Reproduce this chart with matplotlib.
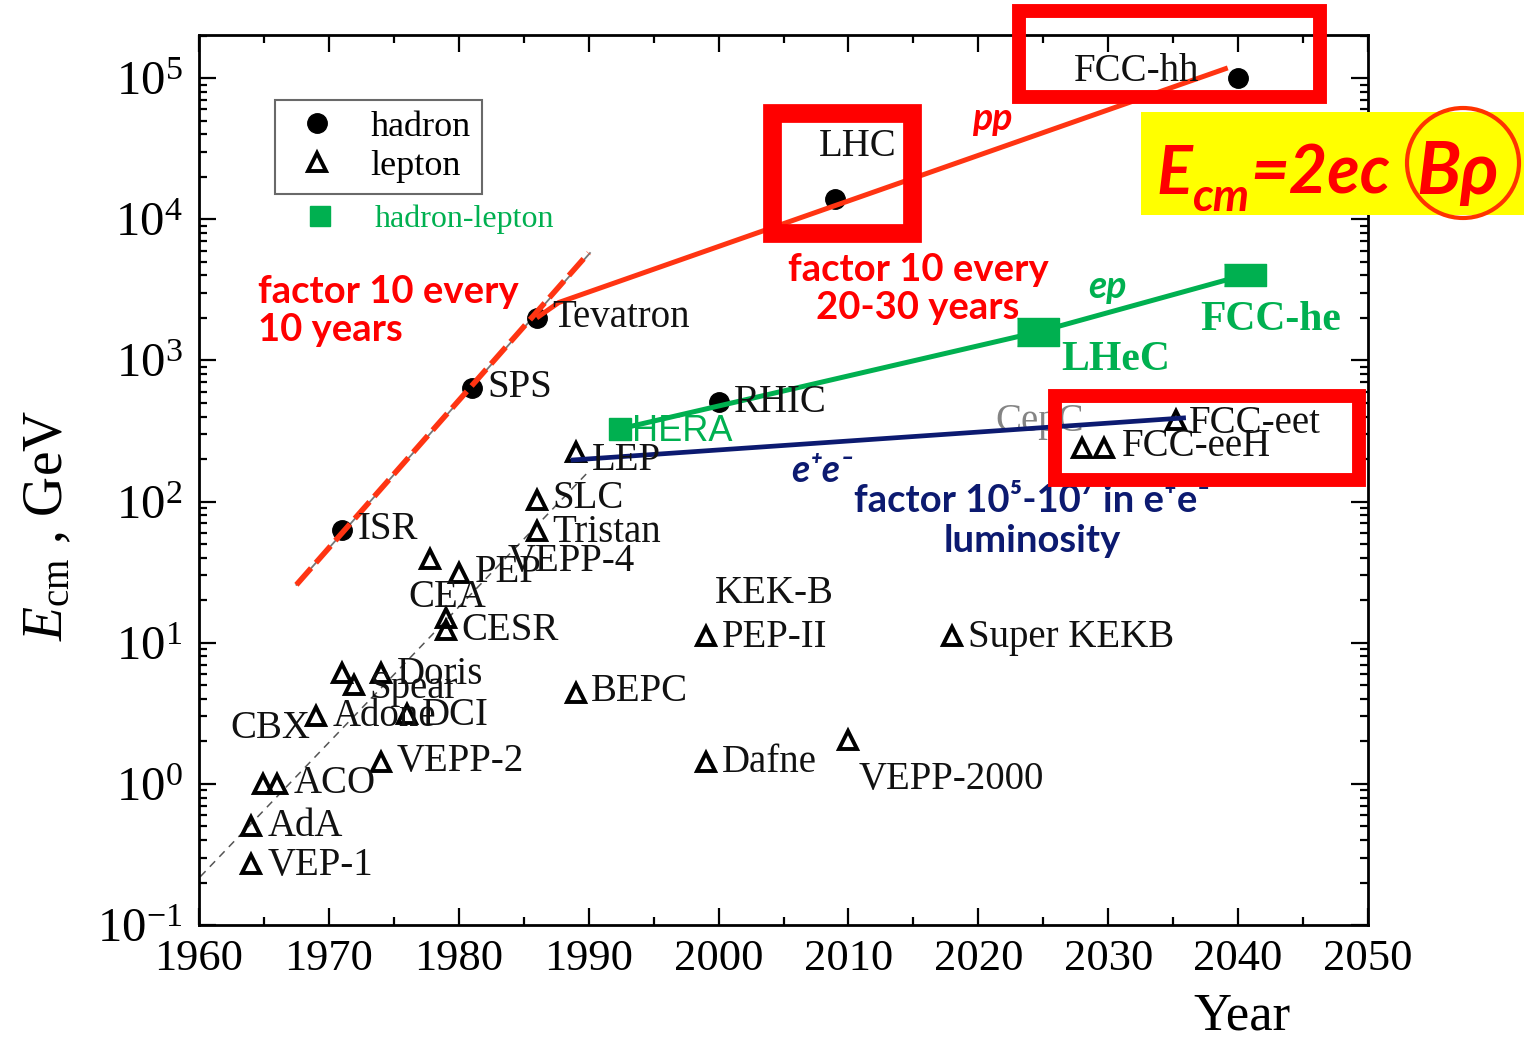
import numpy as np
import matplotlib.pyplot as plt
from matplotlib.lines import Line2D
from matplotlib.patches import Rectangle, Ellipse
from matplotlib.ticker import MultipleLocator, LogLocator, NullFormatter

plt.rcParams['font.family'] = ['Liberation Serif', 'DejaVu Serif']
plt.rcParams['mathtext.fontset'] = 'custom'
plt.rcParams['mathtext.rm'] = 'Liberation Serif'
plt.rcParams['mathtext.it'] = 'Liberation Serif:italic'

# colliders: year, centre-of-mass energy in GeV
hadron_names = ['ISR', 'SPS', 'Tevatron', 'RHIC', 'LHC', 'FCC-hh']
hadron_year = [1971, 1981, 1986, 2000, 2009, 2040]
hadron_ecm = [63, 640, 2000, 510, 14000, 100000]

lepton_names = ['VEP-1', 'AdA', '', 'ACO', 'Adone', '', 'Spear', 'Doris', 'DCI', 'VEPP-2',
                'CEA', 'CESR', '', 'PEP', 'SLC', 'Tristan', 'LEP', 'BEPC', 'PEP-II', 'Dafne',
                'VEPP-2000', 'Super KEKB', '', 'FCC-eeH', 'FCC-eet']
lepton_year = [1964, 1964, 1964.9, 1966, 1969, 1971, 1971.9, 1974, 1976, 1974,
               1979, 1979, 1977.8, 1980, 1986, 1986, 1989, 1989, 1999, 1999,
               2010, 2018, 2028, 2029.7, 2035.2]
lepton_ecm = [0.27, 0.5, 1.0, 1.0, 3.0, 6.1, 5.0, 6.1, 3.1, 1.43,
              15, 12.3, 39, 31, 103, 62, 224, 4.4, 11.1, 1.43,
              2.05, 11.1, 239, 239, 378]

hl_names = ['HERA', 'LHeC', 'FCC-he']
hl_year = [1992.4, 2024.6, 2040.5]
hl_ecm = [327, 1590, 4030]

# trend lines
hadron_trend_year = [1967.5, 1990.1]
hadron_trend_ecm = [25.7, 5760]
lepton_trend_year = [1960.1, 1990.1]
lepton_trend_ecm = [0.22, 167]
pp_year = [1986, 1987.7, 2039.2]
pp_ecm = [2000, 2570, 118000]
ee_year = [1988.8, 2035.8]
ee_ecm = [197, 391]

# highlight boxes (year0, year1, E0, E1)
box_lhc = [2004.1, 2014.9, 7980, 56500]
box_fcchh = [2023.1, 2046.3, 73300, 299000]
box_fccee = [2025.9, 2049.3, 143, 560]

RED = '#ff0000'
LINE_RED = '#ff3412'
GREEN = '#00b050'
NAVY = '#0c1a70'

fig = plt.figure(figsize=(15.24, 10.41), dpi=100)
ax = fig.add_axes([199 / 1524, 116 / 1041, 1169 / 1524, 890 / 1041])


def px(x, y):
    # pixel position of the reference image -> axes fraction
    return ((x - 199) / 1169, (925 - y) / 890)


ax.set_yscale('log')
ax.set_xlim(1960, 2050)
ax.set_ylim(0.1, 10 ** 5.305)

# trend lines
ax.plot(lepton_trend_year, lepton_trend_ecm, color='#555555', lw=1.1, ls=(0, (5, 4)), zorder=2)
ax.plot(hadron_trend_year, hadron_trend_ecm, color='#777777', lw=1.3, zorder=2)
ax.plot([hadron_trend_year[0], hadron_trend_year[1] - 0.1], hadron_trend_ecm, color=LINE_RED,
        lw=4, ls=(0, (4, 1.3)), zorder=4)
ax.plot(pp_year, pp_ecm, color=LINE_RED, lw=3.6, zorder=4, solid_capstyle='butt')
ax.plot(hl_year, hl_ecm, color=GREEN, lw=3.6, zorder=4)
ax.plot(ee_year, ee_ecm, color=NAVY, lw=3.4, zorder=4)

# markers
ax.plot(hadron_year, hadron_ecm, 'o', color='black', ms=14, zorder=3)
ax.plot(lepton_year, lepton_ecm, '^', mfc='none', mec='black', mew=2.8, ms=13.5, zorder=3)
ax.plot(hl_year[:1], hl_ecm[:1], 's', color=GREEN, ms=16, zorder=5)
rect_marker = [(-1, -0.68), (1, -0.68), (1, 0.68), (-1, 0.68)]
flat_marker = [(-1, -0.52), (1, -0.52), (1, 0.52), (-1, 0.52)]
ax.plot(hl_year[1:2], hl_ecm[1:2], marker=rect_marker, ls='', color=GREEN, ms=30, zorder=5)
ax.plot(hl_year[2:], hl_ecm[2:], marker=flat_marker, ls='', color=GREEN, ms=30, zorder=5)

# point labels: offset in pixels from the marker, alignment
label_pos = {
    'ISR': (16, 0, 'left'), 'SPS': (16, 0, 'left'), 'Tevatron': (16, 0, 'left'),
    'RHIC': (15, -1, 'left'), 'LHC': (22, 52, 'center'), 'FCC-hh': (-102, 7, 'center'),
    'VEP-1': (17, -1, 'left'), 'AdA': (17, 0, 'left'), 'ACO': (17, 0, 'left'),
    'Adone': (17, 0, 'left'), 'Spear': (16, -3, 'left'), 'Doris': (16, -2, 'left'),
    'DCI': (15, -1, 'left'), 'VEPP-2': (16, 0, 'left'), 'CEA': (1, 20, 'center'),
    'CESR': (16, -1, 'left'), 'PEP': (16, 1, 'left'), 'SLC': (16, 1, 'left'),
    'Tristan': (16, -2, 'left'), 'LEP': (16, -8, 'left'), 'BEPC': (15, 2, 'left'),
    'PEP-II': (16, -1, 'left'), 'Dafne': (16, -1, 'left'), 'VEPP-2000': (103, -40, 'center'),
    'Super KEKB': (16, -1, 'left'), 'FCC-eeH': (18, 2, 'left'), 'FCC-eet': (13, -3, 'left'),
}
LABEL_FS = 28
for names, xs, ys in [(hadron_names, hadron_year, hadron_ecm),
                      (lepton_names, lepton_year, lepton_ecm)]:
    for n, x, y in zip(names, xs, ys):
        if not n:
            continue
        dx, dy, ha = label_pos[n]
        ax.annotate(n, (x, y), xytext=(dx, dy), textcoords='offset pixels',
                    ha=ha, va='center', fontsize=LABEL_FS, color='#111111', zorder=6)

# labels without their own marker
ax.annotate('KEK-B', (lepton_year[18], lepton_ecm[18]), xytext=(69, 43), textcoords='offset pixels',
            ha='center', va='center', fontsize=LABEL_FS, color='#111111')
ax.text(*px(270, 728), 'CBX', transform=ax.transAxes, ha='center', va='center',
        fontsize=LABEL_FS, color='#111111')
ax.text(*px(508, 562), 'VEPP-4', transform=ax.transAxes, ha='left', va='center',
        fontsize=LABEL_FS, color='#111111')
ax.text(*px(1040, 422), 'CepC', transform=ax.transAxes, ha='center', va='center',
        fontsize=LABEL_FS, color='#666666', alpha=0.8, zorder=3)

ax.annotate('HERA', (hl_year[0], hl_ecm[0]), xytext=(12, -3), textcoords='offset pixels',
            ha='left', va='center', fontsize=26, color=GREEN, family='Liberation Sans', zorder=6)
ax.annotate('LHeC', (hl_year[1], hl_ecm[1]), xytext=(23, -28), textcoords='offset pixels',
            ha='left', va='center', fontsize=30, color=GREEN, fontweight='bold', zorder=6)
ax.annotate('FCC-he', (hl_year[2], hl_ecm[2]), xytext=(-44, -45), textcoords='offset pixels',
            ha='left', va='center', fontsize=30, color=GREEN, fontweight='bold', zorder=6)

# annotation texts
SANS = ['Lato', 'Open Sans', 'DejaVu Sans']
ax.text(*px(258, 311), 'factor 10 every\n10 years', transform=ax.transAxes, ha='left', va='center',
        fontsize=27.5, color=RED, fontweight='bold', family=SANS, linespacing=1.12)
ax.text(*px(918, 289), 'factor 10 every\n20-30 years', transform=ax.transAxes, ha='center',
        va='center', multialignment='center', fontsize=27.5, color=RED, fontweight='bold',
        family=SANS, linespacing=1.12)
ax.text(*px(992, 118), 'pp', transform=ax.transAxes, ha='center', va='center', fontsize=27,
        color=RED, fontweight='bold', style='italic', family=SANS)
ax.text(*px(1107, 287), 'ep', transform=ax.transAxes, ha='center', va='center', fontsize=27,
        color=GREEN, fontweight='bold', style='italic', family=SANS)
ax.text(*px(822, 470), 'e\u207ae\u207b', transform=ax.transAxes, ha='center', va='center',
        fontsize=27, color=NAVY, fontweight='bold', style='italic', family=SANS)
ax.text(*px(1032, 521), 'factor 10\u2075-10\u2077 in e\u207ae\u207b\nluminosity',
        transform=ax.transAxes, ha='center', va='center', multialignment='center', fontsize=27.5,
        color=NAVY, fontweight='bold', family=SANS, linespacing=1.18)

# highlight boxes
for x0, x1, y0, y1, lw in [(*box_lhc, 13.5), (*box_fcchh, 10), (*box_fccee, 10)]:
    ax.add_patch(Rectangle((x0, y0), x1 - x0, y1 - y0, fill=False, edgecolor=RED, lw=lw,
                           clip_on=False, zorder=7, joinstyle='miter'))

# formula box
x0, y0 = px(1141, 215)
x1, y1 = px(1524, 112)
ax.add_patch(Rectangle((x0, y0), x1 - x0, y1 - y0, transform=ax.transAxes, facecolor='#ffff00',
                       edgecolor='none', clip_on=False, zorder=7))
fkw = dict(transform=ax.transAxes, color=RED, fontweight='bold', style='italic', family=SANS,
           va='baseline', ha='left', zorder=8, clip_on=False)
ax.text(*px(1156, 194), 'E', fontsize=48, **fkw)
ax.text(*px(1192, 211), 'cm', fontsize=33, **fkw)
ax.text(*px(1250, 194), '=2ec', fontsize=48, **fkw)
ax.text(*px(1416, 194), 'B\u03c1', fontsize=52, **fkw)
cx, cy = px(1463, 163)
ax.add_patch(Ellipse((cx, cy), 112 / 1169, 110 / 890, transform=ax.transAxes, fill=False,
                     edgecolor='#ff3300', lw=3, clip_on=False, zorder=8))

# legend
h_had = Line2D([], [], marker='o', color='black', ls='', ms=14)
h_lep = Line2D([], [], marker='^', mfc='none', mec='black', mew=2.8, ls='', ms=13)
h_hl = Line2D([], [], marker='s', color=GREEN, ls='', ms=14)
leg = ax.legend([h_had, h_lep], ['hadron', 'lepton'], loc='upper left',
                bbox_to_anchor=px(275, 100), borderaxespad=0, fontsize=26, frameon=True,
                fancybox=False, edgecolor='#444444', handlelength=1.7, handletextpad=0.65,
                borderpad=0.3, labelspacing=0.15)
leg.get_frame().set_linewidth(1.5)
ax.add_artist(leg)
ax.legend([h_hl], ['hadron-lepton'], loc='upper left', bbox_to_anchor=px(277, 192),
          borderaxespad=0, fontsize=23, frameon=False, handlelength=1.9, handletextpad=0.75,
          labelcolor=GREEN)

# axes styling
ax.xaxis.set_major_locator(MultipleLocator(10))
ax.xaxis.set_minor_locator(MultipleLocator(5))
ax.yaxis.set_minor_locator(LogLocator(base=10, subs=np.arange(2, 10), numticks=20))
ax.yaxis.set_minor_formatter(NullFormatter())
ax.set_yticks([10.0 ** k for k in range(-1, 6)])
ax.set_yticklabels([r'$\mathregular{10^{%d}}$' % k for k in range(-1, 6)])
ax.tick_params(which='both', direction='in', top=True, right=True, width=1.6)
ax.tick_params(which='major', length=12)
ax.tick_params(which='minor', length=6)
ax.tick_params(axis='x', labelsize=32, pad=10)
ax.tick_params(axis='y', labelsize=35, pad=12)
for s in ax.spines.values():
    s.set_linewidth(2)

ax.text(*px(48, 525), r'$E_{\mathregular{cm}}$ , GeV', transform=ax.transAxes, rotation=90,
        ha='center', va='center', fontsize=40)
ax.text(*px(1242, 1016), 'Year', transform=ax.transAxes, ha='center', va='center', fontsize=38)

fig.savefig('out.png', dpi=100)
